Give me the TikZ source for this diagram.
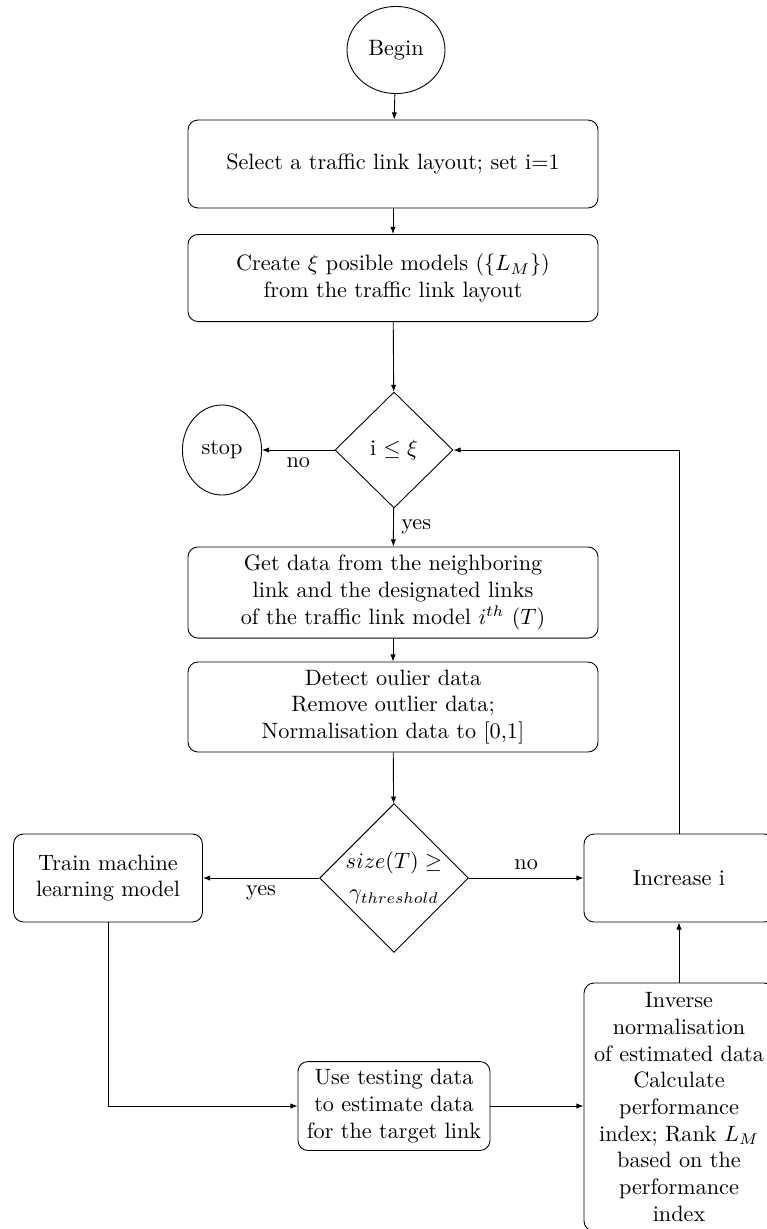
\documentclass[tikz,border=0pt]{standalone}
\usetikzlibrary{shapes.geometric,arrows.meta}
\begin{document}
\begin{tikzpicture}[x=0.45pt,y=-0.45pt,
  stepbox/.style={draw,rounded corners=4.5pt,align=center,inner sep=3pt},
  term/.style={draw,ellipse,inner sep=0pt},
  decision/.style={draw,diamond,align=center,inner sep=0pt},
  arr/.style={-{Latex[length=3.2pt,width=2.4pt]}}]
\useasboundingbox (0,0) rectangle (766,1229);

% main column
\node[term,minimum width=44.1pt,minimum height=39.2pt] (begin) at (396,50) {Begin};
\node[stepbox,minimum width=184.5pt,minimum height=39.6pt] (select) at (393,164)
  {Select a traffic link layout; set i=1};
\node[stepbox,minimum width=184.5pt,minimum height=39.2pt] (create) at (393,278)
  {Create $\xi$ posible models ($\{L_M\}$)\\from the traffic link layout};
\node[decision,minimum width=53.1pt,minimum height=52.2pt] (loop) at (394,450) {i $\leq\xi$};
\node[term,minimum width=35.6pt,minimum height=40.5pt] (stop) at (222,450) {stop};
\node[stepbox,minimum width=184.5pt,minimum height=41pt] (getdata) at (393,592.5)
  {Get data from the neighboring\\link and the designated links\\of the traffic link model $i^{th}$ ($T$)};
\node[stepbox,minimum width=184.5pt,minimum height=40.5pt] (clean) at (393,707)
  {Detect oulier data\\Remove outlier data;\\Normalisation data to [0,1]};
\node[decision,minimum width=65.3pt,minimum height=66.2pt] (size) at (394,878)
  {$size(T) \geq$\\[2pt]$\gamma_{threshold}$};

% side branches
\node[stepbox,minimum width=85pt,minimum height=39.6pt] (train) at (108,878)
  {Train machine\\learning model};
\node[stepbox,minimum width=85.5pt,minimum height=39.6pt] (inc) at (679,878) {Increase i};
\node[stepbox,minimum width=86.4pt,minimum height=40pt] (use) at (394,1106)
  {Use testing data\\to estimate data\\for the target link};
\node[stepbox,minimum width=85.5pt,minimum height=111.6pt] (inv) at (679,1107)
  {Inverse\\normalisation\\of estimated data\\Calculate\\performance\\index; Rank $L_M$\\based on the\\performance\\index};

% connectors
\draw[arr] (begin) -- (select);
\draw[arr] (select) -- (create);
\draw[arr] (create) -- (loop);
\draw[arr] (loop) -- node[below] {no} (stop);
\draw[arr] (loop) -- node[right] {yes} (getdata);
\draw[arr] (getdata) -- (clean);
\draw[arr] (clean) -- (size);
\draw[arr] (size) -- node[below] {yes} (train);
\draw[arr] (size) -- node[above] {no} (inc);
\draw[arr] (inc.north) |- (loop.east);
\draw[arr] (train.south) |- (use.west);
\draw[arr] (use.east) -- (use.east -| inv.west);
\draw[arr] (inv.north) -- (inc.south);
\end{tikzpicture}
\end{document}
